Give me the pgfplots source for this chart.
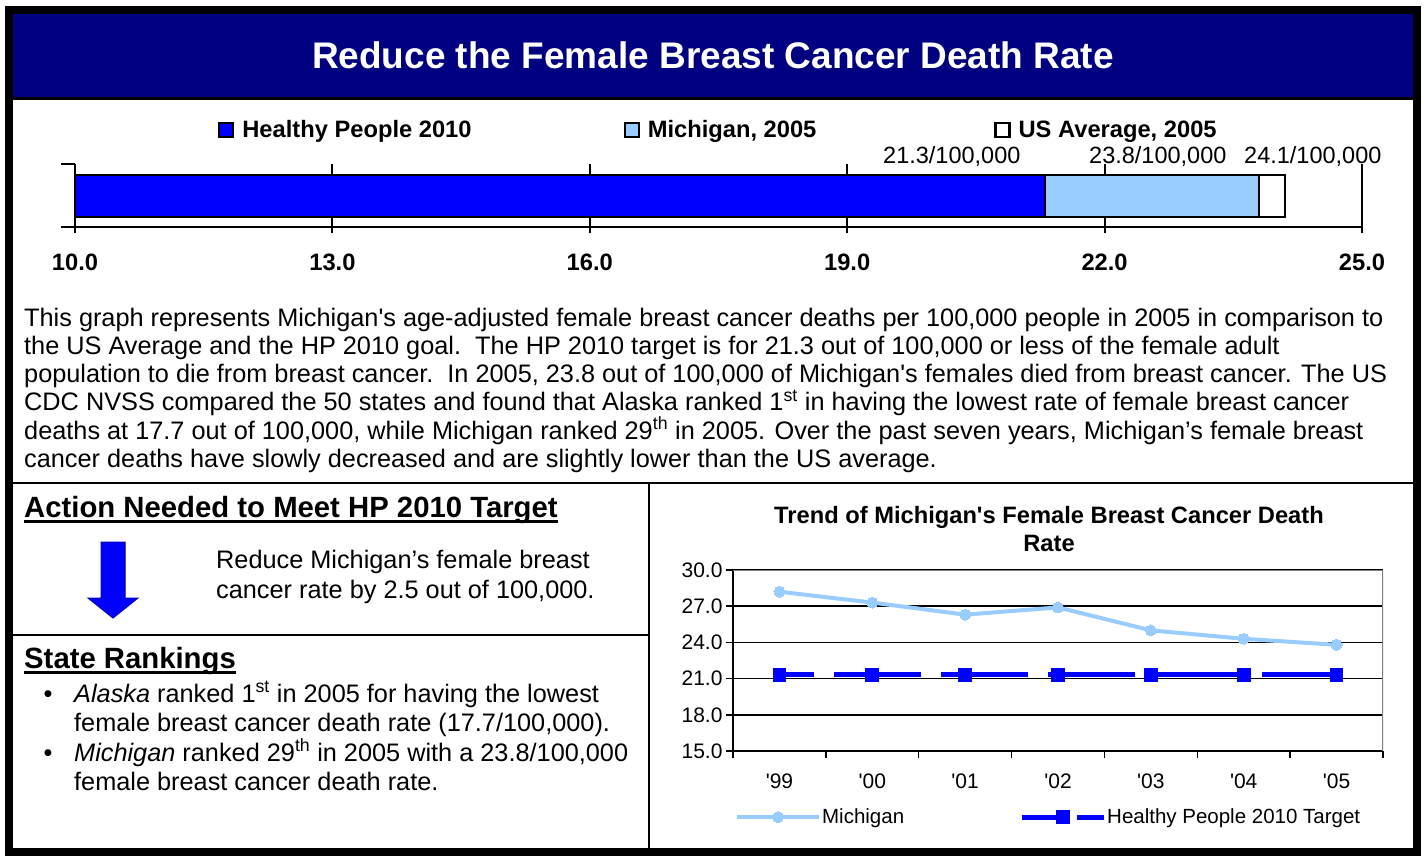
\documentclass[border=0pt]{standalone}
\usepackage{fontspec}
\setmainfont{Liberation Sans}
\usepackage{pgfplots}
\pgfplotsset{compat=1.18}
\definecolor{navy}{HTML}{000080}
\definecolor{hpblue}{HTML}{0000FF}
\definecolor{milight}{HTML}{99CCFF}
\definecolor{framegray}{HTML}{808080}
\newcommand{\fs}[2]{\fontsize{#1pt}{#2pt}\selectfont}
\begin{document}
\begin{tikzpicture}
\useasboundingbox (0pt,0pt) rectangle (1426pt,-855pt);
\begin{scope}[x=1pt,y=-1pt]
% title band
\fill[navy] (13,14) rectangle (1413,97);
\draw[line width=3pt] (13,98.5) -- (1413,98.5);
\node[text=white, font=\bfseries\fs{37}{40}] at (713,55) {Reduce the Female Breast Cancer Death Rate};
% value labels of the bar
\begin{scope}[every node/.style={anchor=base west, inner sep=0pt, font=\fs{23.5}{26}}]
\node at (883,163) {21.3/100,000};
\node at (1089,163) {23.8/100,000};
\node at (1244,163) {24.1/100,000};
\end{scope}
% paragraph
\begin{scope}[every node/.style={anchor=base west, inner sep=0pt, font=\fs{25.3}{28.2}}]
\node at (24,326) {This graph represents Michigan\textquotesingle s age-adjusted female breast cancer deaths per 100,000 people in 2005 in comparison to};
\node at (24,354.4) {the US Average and the HP 2010 goal.\ \ The HP 2010 target is for 21.3 out of 100,000 or less of the female adult};
\node at (24,382.6) {population to die from breast cancer.\ \ In 2005, 23.8 out of 100,000 of Michigan\textquotesingle s females died from breast cancer. The US};
\node at (24,410.8) {CDC NVSS compared the 50 states and found that Alaska ranked 1\textsuperscript{st} in having the lowest rate of female breast cancer};
\node at (24,439) {deaths at 17.7 out of 100,000, while Michigan ranked 29\textsuperscript{th} in 2005. Over the past seven years, Michigan’s female breast};
\node at (24,467.2) {cancer deaths have slowly decreased and are slightly lower than the US average.};
\end{scope}
% dividers
\draw[line width=2.5pt] (13,483) -- (1413,483);
\draw[line width=2.5pt] (649,483) -- (649,852);
\draw[line width=2.5pt] (13,635) -- (649,635);
% Action heading
\node[anchor=base west, inner sep=0pt, font=\bfseries\fs{29.3}{32}] (act) at (24,517) {Action Needed to Meet HP 2010 Target};
\draw[line width=2.5pt] ([yshift=-4.5pt]act.base west) -- ([yshift=-4.5pt]act.base east);
% arrow
\filldraw[fill=hpblue, draw=hpblue!75!black, line width=1pt] (101,542) -- (125,542) -- (125,598) -- (138,598) -- (113,618) -- (88,598) -- (101,598) -- cycle;
\begin{scope}[every node/.style={anchor=base west, inner sep=0pt, font=\fs{25.3}{30}}]
\node at (216,568) {Reduce Michigan’s female breast};
\node at (216,598) {cancer rate by 2.5 out of 100,000.};
\end{scope}
% State rankings
\node[anchor=base west, inner sep=0pt, font=\bfseries\fs{29.3}{32}] (sr) at (24,668) {State Rankings};
\draw[line width=2.5pt] ([yshift=-4.5pt]sr.base west) -- ([yshift=-4.5pt]sr.base east);
\begin{scope}[every node/.style={anchor=base west, inner sep=0pt, font=\fs{25.3}{30}}]
\node[anchor=base] at (48,702) {\textbullet};
\node[anchor=base] at (48,761) {\textbullet};
\node at (74,702) {\textit{Alaska} ranked 1\textsuperscript{st} in 2005 for having the lowest};
\node at (74,731) {female breast cancer death rate (17.7/100,000).};
\node at (74,761) {\textit{Michigan} ranked 29\textsuperscript{th} in 2005 with a 23.8/100,000};
\node at (74,790) {female breast cancer death rate.};
\end{scope}
% line chart title
\node[align=center, font=\bfseries\fs{23.7}{28}] at (1049,529) {Trend of Michigan\textquotesingle s Female Breast Cancer Death\\Rate};
% outer frame
\draw[line width=8pt] (9,10) rectangle (1417,852);
\end{scope}

% ---------------- bar chart ----------------
\begin{axis}[
  at={(75pt,-227pt)}, anchor=south west,
  width=1287pt, height=63pt, scale only axis,
  xmin=10, xmax=25, ymin=0, ymax=1,
  axis x line*=bottom, axis y line*=left,
  axis line style={line width=2pt},
  x axis line style={-}, y axis line style={-},
  xtick={10,13,16,19,22,25},
  xticklabel style={font=\bfseries\fs{23.7}{26}, yshift=-19pt,
    /pgf/number format/fixed, /pgf/number format/fixed zerofill,
    /pgf/number format/precision=1, /pgf/number format/assume math mode=true},
  ytick={0,1}, yticklabels={},
  tick align=outside,
  xtick style={line width=2pt, black, /pgfplots/major tick length=6pt},
  ytick style={line width=2pt, black, /pgfplots/major tick length=14pt},
  xmajorgrids, grid style={line width=2pt, black},
  legend columns=3,
  legend image code/.code={\draw[#1, line width=2.2pt] (0pt,-7pt) rectangle (14pt,7pt);},
  legend style={at={(0.1111,1.54)}, anchor=west, draw=none, fill=none,
    inner sep=0pt, font=\bfseries\fs{23.7}{26}, nodes={inner sep=0pt},
    /tikz/every odd column/.style={column sep=8pt},
    /tikz/column 2/.style={column sep=152pt},
    /tikz/column 4/.style={column sep=178pt}},
]
\addplot[xbar, bar shift=0pt, bar width=42pt, fill=white, draw=black, line width=2pt, forget plot] coordinates {(24.1,0.5)};
\addplot[xbar, bar shift=0pt, bar width=42pt, fill=milight, draw=black, line width=2pt, forget plot] coordinates {(23.8,0.5)};
\addplot[xbar, bar shift=0pt, bar width=42pt, fill=hpblue, draw=black, line width=2pt, forget plot] coordinates {(21.3,0.5)};
\addlegendimage{fill=hpblue, draw=black}
\addlegendentry{Healthy People 2010}
\addlegendimage{fill=milight, draw=black}
\addlegendentry{Michigan, 2005}
\addlegendimage{fill=white, draw=black}
\addlegendentry{US Average, 2005}
\end{axis}

% ---------------- line chart ----------------
\begin{axis}[
  at={(733pt,-751pt)}, anchor=south west,
  width=650pt, height=181pt, scale only axis,
  xmin=0.5, xmax=7.5, ymin=15, ymax=30,
  axis x line*=bottom, axis y line*=left,
  axis line style={line width=1.5pt},
  x axis line style={-}, y axis line style={-},
  xtick={1,2,3,4,5,6,7},
  xticklabels={\textquotesingle 99,\textquotesingle 00,\textquotesingle 01,\textquotesingle 02,\textquotesingle 03,\textquotesingle 04,\textquotesingle 05},
  major x tick style={draw=none},
  minor xtick={0.5,1.5,2.5,3.5,4.5,5.5,6.5,7.5},
  minor x tick style={line width=1.5pt, black},
  ytick={15,18,21,24,27,30},
  ytick style={line width=1.5pt, black},
  tick align=outside,
  major tick length=7pt, minor tick length=7pt,
  xticklabel style={font=\fs{21}{24}, yshift=-12pt},
  yticklabel style={font=\fs{21}{24},
    /pgf/number format/fixed, /pgf/number format/fixed zerofill,
    /pgf/number format/precision=1, /pgf/number format/assume math mode=true},
  ymajorgrids, grid style={line width=1.5pt, black},
  legend columns=2,
  legend image code/.code={\draw[mark repeat=2,mark phase=2,#1] plot coordinates {(0pt,0pt) (41pt,0pt) (82pt,0pt)};},
  legend style={at={(0.003,-0.365)}, anchor=west, draw=none, fill=none,
    inner sep=0pt, font=\fs{20.5}{24}, nodes={inner sep=0pt},
    /tikz/every odd column/.style={column sep=1pt},
    /tikz/column 2/.style={column sep=115pt}},
]
\addplot[color=milight, line width=4pt, line join=round, mark=*, mark size=5.5pt,
  mark options={fill=milight, draw=milight, line width=0pt}]
  coordinates {(1,28.2) (2,27.3) (3,26.3) (4,26.9) (5,25.0) (6,24.3) (7,23.8)};
\addlegendentry{Michigan}
\addplot[color=hpblue, line width=5pt, dash pattern=on 87pt off 20pt, dash phase=52pt,
  mark=square*, mark size=6.3pt, mark options={solid, fill=hpblue, draw=hpblue, line width=0pt}]
  coordinates {(1,21.3) (2,21.3) (3,21.3) (4,21.3) (5,21.3) (6,21.3) (7,21.3)};
\addlegendentry{Healthy People 2010 Target}
\draw[framegray, line width=1.5pt] (rel axis cs:0,1) -- (rel axis cs:1,1) -- (rel axis cs:1,0);
\end{axis}
\end{tikzpicture}
\end{document}
